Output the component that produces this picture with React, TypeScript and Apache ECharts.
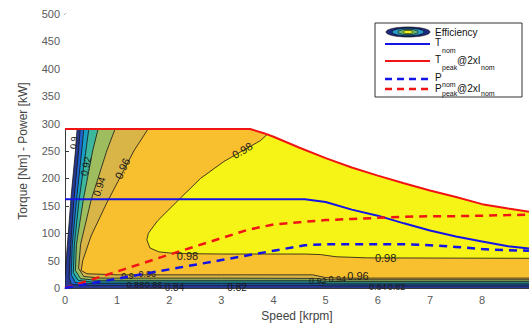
import React, { useEffect, useRef } from 'react';
import * as echarts from 'echarts';

type Pt = [number, number];

// ---- characteristic curves ----
const tPeakSpeed = [0, 3.55, 3.8, 4.0, 4.5, 5.0, 5.5, 6.0, 6.5, 7.0, 7.5, 8.0, 8.5, 8.9];
const tPeakTorque = [290, 290, 283, 276, 256, 237, 220, 205, 191, 178, 166, 153, 145, 139];

const tNomSpeed = [0, 4.6, 5.0, 5.5, 6.0, 6.5, 7.0, 7.5, 8.0, 8.5, 8.9];
const tNomTorque = [162, 162, 157, 143, 132, 118, 105, 94, 85, 76, 72];

const pPeakSpeed = [0, 1, 2, 3, 3.5, 4, 4.5, 5, 5.5, 6, 6.5, 7, 7.5, 8, 8.5, 8.9];
const pPeakPower = [0, 30, 61, 91, 106, 116, 120, 124, 126, 128, 130, 131, 131, 132, 133, 134];

const pNomSpeed = [0, 1, 2, 3, 4, 4.6, 5, 5.5, 6, 6.5, 7, 7.5, 8, 8.5, 8.9];
const pNomPower = [0, 17, 34, 51, 68, 78, 80, 80, 80, 80, 78, 75, 71, 69, 68];

// ---- efficiency regions (speed krpm, torque Nm): area where efficiency >= level ----
const regionBase: Pt[] = [[0.24, 300], [0.2, 250], [0.12, 170], [0.08, 120], [0.03, 60], [0, 20], [0, -10], [9.5, -10], [9.5, 300]];
const region86: Pt[] = [[0.3, 300], [0.26, 250], [0.17, 160], [0.11, 80], [0.08, 20], [0.12, 7], [0.3, 5], [3, 5], [4.8, 5], [5.0, 4], [9.5, 4], [9.5, 300]];
const region88: Pt[] = [[0.37, 300], [0.32, 250], [0.22, 160], [0.14, 80], [0.12, 24], [0.2, 10], [0.4, 8], [3, 8], [4.8, 8], [5.0, 7], [9.5, 7], [9.5, 300]];
const region90: Pt[] = [[0.47, 300], [0.4, 250], [0.27, 160], [0.18, 80], [0.16, 28], [0.25, 14], [0.5, 11], [3, 11], [4.8, 11], [5.05, 9], [9.5, 9], [9.5, 300]];
const region92: Pt[] = [[0.66, 300], [0.53, 250], [0.35, 160], [0.22, 80], [0.2, 32], [0.3, 17], [0.6, 14], [3, 14], [4.8, 14], [5.05, 12], [9.5, 12], [9.5, 300]];
const region94: Pt[] = [[1.0, 300], [0.8, 250], [0.5, 160], [0.3, 80], [0.26, 36], [0.36, 21], [0.7, 18], [3, 18], [4.8, 17.5], [5.05, 15], [9.5, 15], [9.5, 300]];
const region96: Pt[] = [[1.66, 300], [1.32, 250], [0.8, 155], [0.5, 95], [0.34, 50], [0.31, 32], [0.42, 26], [1, 24], [3, 24], [4.75, 24], [5.0, 19], [5.3, 18], [9.5, 18], [9.5, 300]];
const region98: Pt[] = [[4.1, 300], [3.75, 269], [3.42, 251], [3.05, 231], [2.6, 200], [2.15, 158], [1.77, 122], [1.6, 100], [1.57, 88], [1.63, 73], [1.8, 66], [2.1, 63], [3, 62], [4.6, 62], [4.9, 61], [5.2, 57], [5.8, 55], [9.5, 54], [9.5, 300]];

const regions: Pt[][] = [regionBase, region86, region88, region90, region92, region94, region96, region98];
const regionColors = ['#26388f', '#1f66d2', '#179fc4', '#3db89c', '#9dbd5f', '#d9b548', '#f8bf2f', '#f6f316'];

// ---- contour labels ----
const labelText = ['0.98', '0.98', '0.98', '0.96', '0.94', '0.92', '0.9', '0.96', '0.94', '0.92', '0.84', '0.82', '0.84', '0.82', '0.86', '0.88', '0.9', '0.96'];
const labelSpeed = [3.4, 2.35, 6.15, 1.1, 0.66, 0.4, 0.17, 5.62, 5.22, 4.85, 2.1, 3.3, 6.0, 6.36, 1.7, 1.35, 1.2, 1.58];
const labelTorque = [251, 59, 55, 218, 185, 222, 265, 21, 17, 12, 1, 1, 2, 2, 5, 5, 22, 26];
const labelAngle = [30, 0, 0, 65, 72, 78, 85, 0, 0, 0, 0, 0, 0, 0, 0, 0, 0, 0];
const labelSize = [11, 11, 11, 11, 10, 10, 9, 11, 9, 9, 10, 10, 9, 9, 9, 9, 9, 9];

// mask above the peak-torque envelope
const maskPoly: Pt[] = [
  ...tPeakSpeed.map((s, i) => [s, tPeakTorque[i]] as Pt),
  [9.5, 139], [9.5, 520], [-0.5, 520], [-0.5, 290],
];

const FONT = 'Liberation Sans, Arial, sans-serif';

export default function App() {
  const ref = useRef<HTMLDivElement>(null);
  useEffect(() => {
    if (!ref.current) return;
    const chart = echarts.init(ref.current, null, { renderer: 'svg' });
    const clipOf = (params: any) => {
      const c = params.coordSys;
      return { type: 'rect', shape: { x: c.x, y: c.y, width: c.width, height: c.height } };
    };
    const zip = (a: number[], b: number[]) => a.map((v, i) => [v, b[i]]);

    const txt = (x: number, y: number, text: string, size: number) => ({
      type: 'text', x, y, z: 101,
      style: { text, fontSize: size, fontFamily: FONT, fill: '#111', verticalAlign: 'middle' },
    });

    const g: any[] = [
      { type: 'rect', shape: { x: 375, y: 23, width: 147, height: 74 }, style: { fill: '#fff', stroke: '#333', lineWidth: 1 }, z: 100 },
      { type: 'ellipse', shape: { cx: 408, cy: 32, rx: 22, ry: 5 }, style: { fill: '#1d2a80', stroke: '#000', lineWidth: 0.6 }, z: 101 },
      { type: 'ellipse', shape: { cx: 408, cy: 32, rx: 16, ry: 3.8 }, style: { fill: '#2a9ac8', stroke: '#000', lineWidth: 0.6 }, z: 101 },
      { type: 'ellipse', shape: { cx: 408, cy: 32, rx: 10, ry: 2.6 }, style: { fill: '#6cbc6c', stroke: '#000', lineWidth: 0.6 }, z: 101 },
      { type: 'ellipse', shape: { cx: 408, cy: 32, rx: 5, ry: 1.6 }, style: { fill: '#f6f020', stroke: '#000', lineWidth: 0.5 }, z: 101 },
      txt(435, 32, 'Efficiency', 10),
      { type: 'line', shape: { x1: 385, y1: 44, x2: 430, y2: 44 }, style: { stroke: '#1414e6', lineWidth: 2 }, z: 101 },
      txt(435, 42, 'T', 10),
      txt(442, 50, 'nom', 7),
      { type: 'line', shape: { x1: 385, y1: 61, x2: 430, y2: 61 }, style: { stroke: '#f01414', lineWidth: 2 }, z: 101 },
      txt(435, 59, 'T', 10),
      txt(442, 67, 'peak', 7),
      txt(457, 60, '@2xI', 10),
      txt(481, 67, 'nom', 7),
      { type: 'line', shape: { x1: 385, y1: 79, x2: 430, y2: 79 }, style: { stroke: '#1414e6', lineWidth: 2.5, lineDash: [7, 5] }, z: 101 },
      txt(435, 77, 'P', 10),
      txt(442, 84, 'nom', 7),
      { type: 'line', shape: { x1: 385, y1: 89, x2: 430, y2: 89 }, style: { stroke: '#f01414', lineWidth: 2.5, lineDash: [7, 5] }, z: 101 },
      txt(435, 88, 'P', 10),
      txt(442, 93, 'peak', 7),
      txt(457, 88, '@2xI', 10),
      txt(481, 93, 'nom', 7),
    ];

    const axisCommon = {
      axisLine: { show: true, lineStyle: { color: '#3a3a3a', width: 1 } },
      axisTick: { show: true, inside: true, length: 4, lineStyle: { color: '#3a3a3a' } },
      splitLine: { show: false },
    };

    chart.setOption({
      animation: false,
      backgroundColor: '#fff',
      grid: { left: 65, right: 0, top: 14, bottom: 36, containLabel: false },
      xAxis: [
        {
          type: 'value', min: 0, max: 8.9, interval: 1, position: 'bottom',
          name: 'Speed [krpm]', nameLocation: 'middle', nameGap: 22,
          nameTextStyle: { fontSize: 12, color: '#444', fontFamily: FONT },
          axisLabel: { fontSize: 11, color: '#5a5a5a', fontFamily: FONT, margin: 6, showMaxLabel: false },
          ...axisCommon,
        },
        {
          type: 'value', min: 0, max: 8.9, interval: 1, position: 'top',
          axisLabel: { show: false }, ...axisCommon,
        },
      ],
      yAxis: {
        type: 'value', min: 0, max: 500, interval: 50,
        name: 'Torque [Nm] - Power [kW]', nameLocation: 'middle', nameGap: 36,
        nameTextStyle: { fontSize: 12, color: '#444', fontFamily: FONT },
        axisLabel: { fontSize: 11, color: '#5a5a5a', fontFamily: FONT, margin: 5 },
        ...axisCommon,
      },
      series: [
        {
          type: 'custom', z: 1, silent: true,
          data: regions.map(() => [0, 0]),
          renderItem: (params: any, api: any) => {
            const i = params.dataIndex;
            const pts = regions[i].map((p) => api.coord(p));
            return {
              type: 'polygon', shape: { points: pts },
              style: { fill: regionColors[i], stroke: '#151515', lineWidth: 0.8 },
              clipPath: clipOf(params),
            };
          },
        },
        {
          type: 'custom', z: 2, silent: true,
          data: [[0, 0]],
          renderItem: (params: any, api: any) => ({
            type: 'polygon', shape: { points: maskPoly.map((p) => api.coord(p)) },
            style: { fill: '#ffffff', stroke: 'none' },
            clipPath: clipOf(params),
          }),
        },
        {
          type: 'custom', z: 3, silent: true,
          data: labelText.map(() => [0, 0]),
          renderItem: (params: any, api: any) => {
            const i = params.dataIndex;
            const p = api.coord([labelSpeed[i], labelTorque[i]]);
            return {
              type: 'text', x: p[0], y: p[1], rotation: (labelAngle[i] * Math.PI) / 180,
              style: { text: labelText[i], fontSize: labelSize[i], fontFamily: FONT, fill: '#1a1a1a', align: 'center', verticalAlign: 'middle' },
            };
          },
        },
        {
          type: 'line', z: 5, data: zip(tPeakSpeed, tPeakTorque), showSymbol: false, symbol: 'none',
          lineStyle: { color: '#f01414', width: 2 },
        },
        {
          type: 'line', z: 5, data: zip(tNomSpeed, tNomTorque), showSymbol: false, symbol: 'none',
          lineStyle: { color: '#1414e6', width: 2 },
        },
        {
          type: 'line', z: 5, data: zip(pPeakSpeed, pPeakPower), showSymbol: false, symbol: 'none',
          lineStyle: { color: '#f01414', width: 2.5, type: [8, 6] },
        },
        {
          type: 'line', z: 5, data: zip(pNomSpeed, pNomPower), showSymbol: false, symbol: 'none',
          lineStyle: { color: '#1414e6', width: 2.5, type: [8, 6] },
        },
      ],
      graphic: g,
    });
    return () => chart.dispose();
  }, []);
  return <div ref={ref} style={{ position: 'fixed', left: 0, top: 0, width: 529, height: 327 }} />;
}
